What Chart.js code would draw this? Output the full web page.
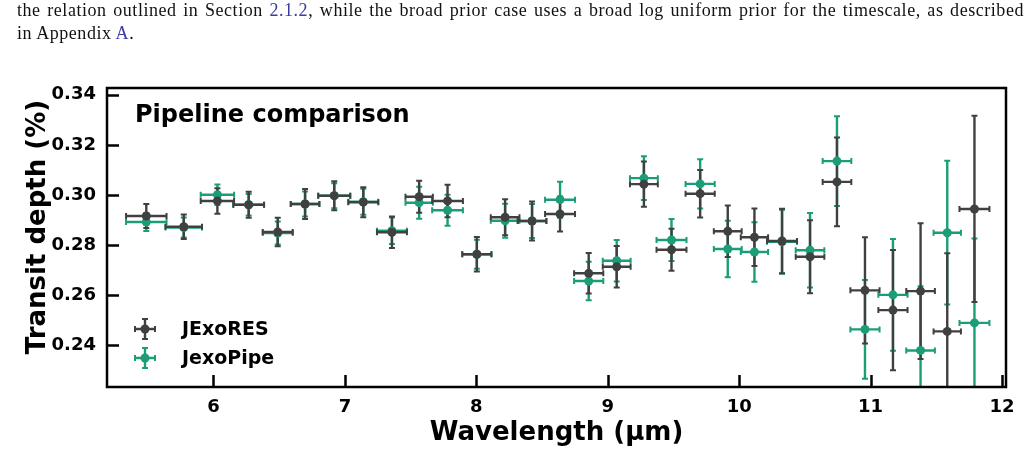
<!DOCTYPE html>
<html>
<head>
  <title>Pipeline comparison</title>
  <script src="https://cdn.jsdelivr.net/npm/chart.js"></script>
  <style>
    body { margin: 0; background: #fff; }
    #wrap { position: relative; width: 1034px; height: 453px; overflow: hidden; }
    #caption {
      position: absolute; left: 17px; top: -1px; width: 1007px;
      font-family: "Liberation Serif", "DejaVu Serif", serif; font-size: 18px; line-height: 23px;
      letter-spacing: 0.55px; color: #111;
    }
    #caption .l1 { display: block; text-align: justify; text-align-last: justify; white-space: nowrap; }
    #caption a { color: #3b3ba0; text-decoration: none; }
    #chart { position: absolute; left: 0; top: 0; }
  </style>
</head>
<body>
<div id="wrap">
  <canvas id="chart" width="1034" height="453"></canvas>
  <div id="caption">
    <span class="l1">the relation outlined in Section <a>2.1.2</a>, while the broad prior case uses a broad log uniform prior for the timescale, as described</span>
    in Appendix <a>A</a>.
  </div>
</div>

<script>
  // spectral bins (micron) and bin half widths
  var wavelength = [5.489, 5.774, 6.030, 6.268, 6.489, 6.697, 6.919, 7.140, 7.358, 7.565,
                    7.781, 8.004, 8.219, 8.424, 8.637, 8.855, 9.068, 9.275, 9.485, 9.703,
                    9.913, 10.116, 10.326, 10.539, 10.744, 10.957, 11.170, 11.380, 11.583, 11.790];
  var binHalfWidth = [0.154, 0.139, 0.127, 0.117, 0.114, 0.109, 0.122, 0.114, 0.114, 0.104,
                      0.117, 0.111, 0.109, 0.109, 0.114, 0.111, 0.106, 0.106, 0.114, 0.111,
                      0.106, 0.104, 0.114, 0.109, 0.109, 0.111, 0.111, 0.109, 0.104, 0.114];

  // transit depth (%) and 1-sigma errors
  var jexoresDepth = [0.2916, 0.2873, 0.2976, 0.2961, 0.2852, 0.2964, 0.2997, 0.2971, 0.2851, 0.2993,
                      0.2976, 0.2763, 0.2911, 0.2896, 0.2924, 0.2687, 0.2713, 0.3043, 0.2781, 0.3005,
                      0.2855, 0.2831, 0.2816, 0.2753, 0.3052, 0.2619, 0.2540, 0.2616, 0.2455, 0.2944];
  var jexoresErr = [0.0048, 0.0049, 0.0051, 0.0052, 0.0057, 0.0060, 0.0058, 0.0060, 0.0063, 0.0064,
                    0.0065, 0.0069, 0.0072, 0.0078, 0.0070, 0.0081, 0.0083, 0.0090, 0.0084, 0.0095,
                    0.0103, 0.0115, 0.0129, 0.0146, 0.0177, 0.0212, 0.0240, 0.0271, 0.0312, 0.0372];
  var jexopipeDepth = [0.2892, 0.2870, 0.3001, 0.2961, 0.2848, 0.2964, 0.2997, 0.2973, 0.2857, 0.2969,
                       0.2939, 0.2763, 0.2897, 0.2896, 0.2981, 0.2656, 0.2737, 0.3067, 0.2820, 0.3044,
                       0.2784, 0.2772, 0.2813, 0.2779, 0.3135, 0.2463, 0.2601, 0.2379, 0.2849, 0.2489];
  var jexopipeErr = [0.0036, 0.0040, 0.0041, 0.0043, 0.0046, 0.0050, 0.0050, 0.0052, 0.0053, 0.0064,
                     0.0062, 0.0058, 0.0068, 0.0068, 0.0072, 0.0077, 0.0083, 0.0087, 0.0084, 0.0098,
                     0.0113, 0.0119, 0.0128, 0.0149, 0.0179, 0.0197, 0.0223, 0.0256, 0.0287, 0.0337];

  var xTicks = [6, 7, 8, 9, 10, 11, 12];
  var yTicks = [0.24, 0.26, 0.28, 0.30, 0.32, 0.34];

  var DARK = '#404040';
  var GREEN = '#1b9e77';
  var FONT = '"DejaVu Sans", sans-serif';

  Chart.defaults.color = '#000';
  Chart.defaults.font.family = FONT;

  function points(depth, err) {
    return wavelength.map(function (w, i) {
      return { x: w, y: depth[i], xerr: binHalfWidth[i], yerr: err[i] };
    });
  }

  function drawCross(ctx, cx, cy, x0, x1, y0, y1, color) {
    ctx.strokeStyle = color;
    ctx.lineWidth = 2.4;
    ctx.beginPath();
    ctx.moveTo(x0, cy); ctx.lineTo(x1, cy);
    ctx.moveTo(cx, y0); ctx.lineTo(cx, y1);
    ctx.stroke();
    // caps
    ctx.lineWidth = 2;
    var c = 3;
    ctx.beginPath();
    ctx.moveTo(x0, cy - c); ctx.lineTo(x0, cy + c);
    ctx.moveTo(x1, cy - c); ctx.lineTo(x1, cy + c);
    ctx.moveTo(cx - c, y0); ctx.lineTo(cx + c, y0);
    ctx.moveTo(cx - c, y1); ctx.lineTo(cx + c, y1);
    ctx.stroke();
  }

  var errorBars = {
    id: 'errorBars',
    beforeDatasetsDraw: function (chart) {
      var ctx = chart.ctx, xs = chart.scales.x, ys = chart.scales.y, a = chart.chartArea;
      ctx.save();
      ctx.beginPath();
      ctx.rect(a.left, a.top, a.right - a.left, a.bottom - a.top);
      ctx.clip();
      // JexoPipe underneath, JExoRES on top
      [1, 0].forEach(function (di) {
        var ds = chart.data.datasets[di];
        ds.data.forEach(function (p) {
          drawCross(ctx,
            xs.getPixelForValue(p.x), ys.getPixelForValue(p.y),
            xs.getPixelForValue(p.x - p.xerr), xs.getPixelForValue(p.x + p.xerr),
            ys.getPixelForValue(p.y + p.yerr), ys.getPixelForValue(p.y - p.yerr),
            ds.borderColor);
        });
      });
      ctx.restore();
    },
    afterDraw: function (chart) {
      var ctx = chart.ctx, xs = chart.scales.x, ys = chart.scales.y, a = chart.chartArea;
      ctx.save();
      // inward ticks
      ctx.strokeStyle = '#000';
      ctx.lineWidth = 2.5;
      ctx.beginPath();
      yTicks.forEach(function (v) {
        var py = Math.round(ys.getPixelForValue(v)) + 0.5;
        ctx.moveTo(a.left, py); ctx.lineTo(a.left + 12, py);
      });
      xTicks.forEach(function (v) {
        var px = Math.round(xs.getPixelForValue(v)) + 0.5;
        ctx.moveTo(px, a.bottom); ctx.lineTo(px, a.bottom - 12);
      });
      ctx.stroke();
      // frame
      ctx.lineWidth = 2.5;
      ctx.strokeRect(a.left, a.top, a.right - a.left, a.bottom - a.top);

      // panel title
      ctx.fillStyle = '#000';
      ctx.font = 'bold 24px ' + FONT;
      ctx.textAlign = 'left';
      ctx.textBaseline = 'middle';
      ctx.fillText('Pipeline comparison', a.left + 28, a.top + 28);

      // y axis title
      ctx.save();
      ctx.translate(38, 227);
      ctx.rotate(-Math.PI / 2);
      ctx.textAlign = 'center';
      ctx.font = 'bold 26px ' + FONT;
      ctx.fillText('Transit depth (%)', 0, 0);
      ctx.restore();

      // legend
      ctx.font = 'bold 19px ' + FONT;
      chart.data.datasets.forEach(function (ds, i) {
        var lx = a.left + 38, ly = 329 + i * 29;
        drawCross(ctx, lx, ly, lx - 10, lx + 10, ly - 10, ly + 10, ds.borderColor);
        ctx.fillStyle = ds.borderColor;
        ctx.beginPath();
        ctx.arc(lx, ly, 4.5, 0, Math.PI * 2);
        ctx.fill();
        ctx.fillStyle = '#000';
        ctx.fillText(ds.label, lx + 37, ly + 1);
      });
      ctx.restore();
    }
  };

  var ctx = document.getElementById('chart').getContext('2d');
  var chart = new Chart(ctx, {
    type: 'scatter',
    data: {
      datasets: [
        {
          label: 'JExoRES',
          data: points(jexoresDepth, jexoresErr),
          borderColor: DARK,
          backgroundColor: DARK,
          pointRadius: 4.5,
          pointBorderWidth: 0
        },
        {
          label: 'JexoPipe',
          data: points(jexopipeDepth, jexopipeErr),
          borderColor: GREEN,
          backgroundColor: GREEN,
          pointRadius: 4.5,
          pointBorderWidth: 0
        }
      ]
    },
    options: {
      responsive: false,
      devicePixelRatio: 1,
      animation: false,
      layout: { padding: { top: 88, right: 28, bottom: 0, left: 0 } },
      plugins: {
        legend: { display: false },
        tooltip: { enabled: false }
      },
      scales: {
        x: {
          type: 'linear',
          min: 5.19,
          max: 12.03,
          grid: { display: false },
          border: { display: false },
          afterBuildTicks: function (s) { s.ticks = xTicks.map(function (v) { return { value: v }; }); },
          afterFit: function (s) { s.height = 66; },
          ticks: {
            font: { size: 18, weight: 'bold' },
            padding: 2,
            maxRotation: 0,
            callback: function (v) { return String(v); }
          },
          title: {
            display: true,
            text: 'Wavelength (µm)',
            font: { size: 26, weight: 'bold' },
            padding: { top: 0, bottom: 4 }
          }
        },
        y: {
          type: 'linear',
          min: 0.2233,
          max: 0.3427,
          grid: { display: false },
          border: { display: false },
          afterBuildTicks: function (s) { s.ticks = yTicks.map(function (v) { return { value: v }; }); },
          afterFit: function (s) { s.width = 107; },
          ticks: {
            font: { size: 18, weight: 'bold' },
            padding: 3,
            callback: function (v) { return v.toFixed(2); }
          }
        }
      }
    },
    plugins: [errorBars]
  });
</script>
</body>
</html>
